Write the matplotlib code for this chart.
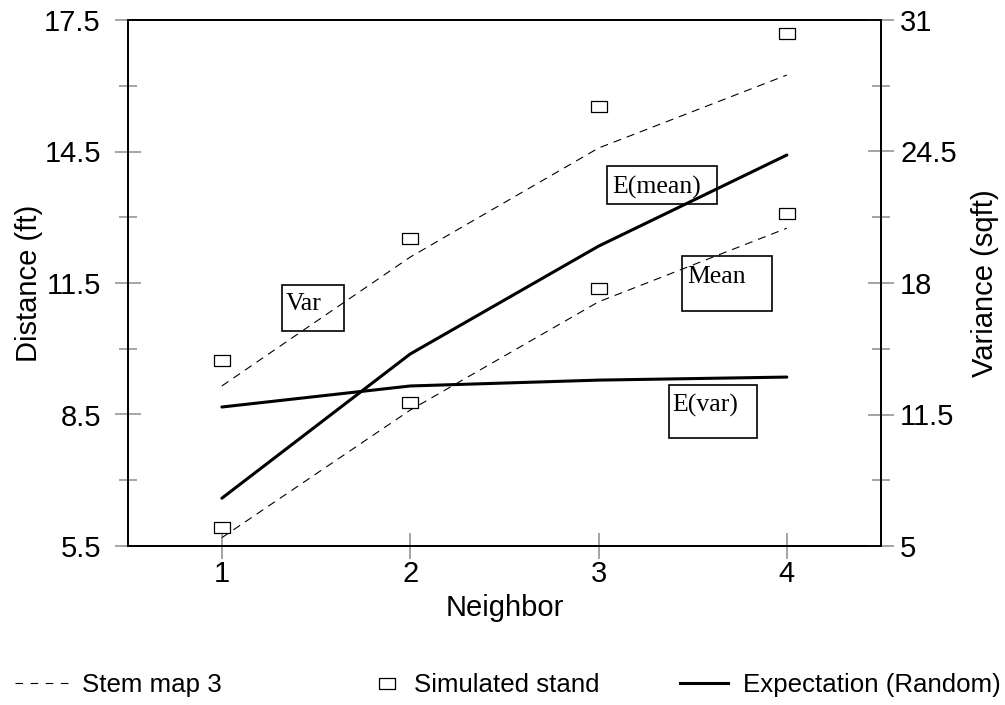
import matplotlib
matplotlib.use("Agg")
import matplotlib.pyplot as plt
from matplotlib.lines import Line2D
from matplotlib.patches import Rectangle

# ---- data ----
neighbor = [1, 2, 3, 4]
mean_stem = [5.69, 8.60, 11.07, 12.75]
mean_sim = [5.93, 8.78, 11.39, 13.10]
mean_exp = [6.59, 9.88, 12.34, 14.42]
var_stem = [12.91, 19.28, 24.67, 28.28]
var_sim = [14.19, 20.22, 26.75, 30.36]
var_exp = [11.87, 12.91, 13.20, 13.35]

left_ticks = [5.5, 8.5, 11.5, 14.5, 17.5]
left_minor = [7, 10, 13, 16]
right_ticks = [5, 11.5, 18, 24.5, 31]
right_minor = [8.25, 14.75, 21.25, 27.75]
x_ticks = [1, 2, 3, 4]

plt.rcParams['font.family'] = ['Liberation Sans', 'DejaVu Sans']

fig = plt.figure(figsize=(10.05, 7.05), dpi=100)
ax = fig.add_axes([127.7 / 1005, 1 - 546 / 705, (881 - 127.7) / 1005, 526 / 705])
ax2 = ax.twinx()

rect_marker = [(-0.5, -0.36), (0.5, -0.36), (0.5, 0.36), (-0.5, 0.36), (-0.5, -0.36)]
dash = (7.2, 5.4)
mk = dict(marker=rect_marker, markersize=11, markerfacecolor='white',
          markeredgecolor='black', markeredgewidth=0.9, linestyle='none')

ax.plot(neighbor, mean_stem, color='black', lw=0.8, dashes=dash)
ax.plot(neighbor, mean_exp, color='black', lw=2.2, solid_capstyle='round')
ax.plot(neighbor, mean_sim, **mk)
ax2.plot(neighbor, var_stem, color='black', lw=0.8, dashes=dash)
ax2.plot(neighbor, var_exp, color='black', lw=2.2, solid_capstyle='round')
ax2.plot(neighbor, var_sim, **mk)

ax.set_xlim(0.5, 4.5)
ax.set_ylim(5.5, 17.5)
ax2.set_ylim(5, 31)
ax.set_xticks(x_ticks)
ax.set_xticklabels([str(v) for v in x_ticks])
ax.set_yticks(left_ticks)
ax.set_yticklabels([f"{v:g}" for v in left_ticks])
ax.set_yticks(left_minor, minor=True)
ax2.set_yticks(right_ticks)
ax2.set_yticklabels([f"{v:g}" for v in right_ticks])
ax2.set_yticks(right_minor, minor=True)

tc = '#8c8c8c'
ax.tick_params(axis='x', which='major', direction='inout', length=18.7, width=1.1,
               color=tc, labelcolor='black', labelsize=21, pad=1)
ax.tick_params(axis='y', which='major', direction='inout', length=18.7, width=1.1,
               color=tc, labelcolor='black', labelsize=21, pad=10)
ax.tick_params(axis='y', which='minor', direction='inout', length=13, width=1.1, color=tc)
ax2.tick_params(axis='y', which='major', direction='inout', length=18.7, width=1.1,
                color=tc, labelcolor='black', labelsize=21, pad=4.5)
ax2.tick_params(axis='y', which='minor', direction='inout', length=13, width=1.1, color=tc)

for a in (ax, ax2):
    for s in a.spines.values():
        s.set_linewidth(1.3)
        s.set_color('black')

ax.set_xlabel('Neighbor', fontsize=21, labelpad=4)
ax.set_ylabel('Distance (ft)', fontsize=21, labelpad=1)
ax2.set_ylabel('Variance (sqft)', fontsize=21, labelpad=10)

# boxed annotations (axes fraction)
boxes = [
    ('E(mean)', 0.6362, 0.6502, 0.7822, 0.7224, 0.6428, 0.6692),
    ('Mean', 0.7358, 0.4468, 0.8553, 0.5513, 0.7424, 0.5000),
    ('Var', 0.2048, 0.4087, 0.2871, 0.4962, 0.2101, 0.4487),
    ('E(var)', 0.7186, 0.2053, 0.8354, 0.3061, 0.7226, 0.2548),
]
for txt, x0, y0, x1, y1, tx, ty in boxes:
    ax2.add_patch(Rectangle((x0, y0), x1 - x0, y1 - y0, transform=ax2.transAxes,
                            facecolor='none', edgecolor='black', lw=1.2, zorder=1))
    ax2.text(tx, ty, txt, transform=ax2.transAxes, fontsize=18.5,
             family=['Liberation Serif', 'DejaVu Serif'], va='baseline', ha='left', zorder=2)

# legend
yc = 1 - 685 / 705
h1 = Line2D([], [], color='black', lw=0.8, dashes=(6.8, 6.8))
h2 = Line2D([], [], **mk)
h3 = Line2D([], [], color='black', lw=2.2)
common = dict(frameon=False, fontsize=18.6, borderpad=0, borderaxespad=0,
              loc='center left')
fig.legend([h1], ['Stem map 3'], bbox_to_anchor=(15 / 1005, yc),
           handlelength=2.05, handletextpad=0.54, **common)
fig.legend([h2], ['Simulated stand'], bbox_to_anchor=(375 / 1005, yc),
           handlelength=0.9, handletextpad=0.6, **common)
fig.legend([h3], ['Expectation (Random)'], bbox_to_anchor=(680 / 1005, yc),
           handlelength=1.85, handletextpad=0.58, **common)

fig.savefig('out.png', dpi=100)
